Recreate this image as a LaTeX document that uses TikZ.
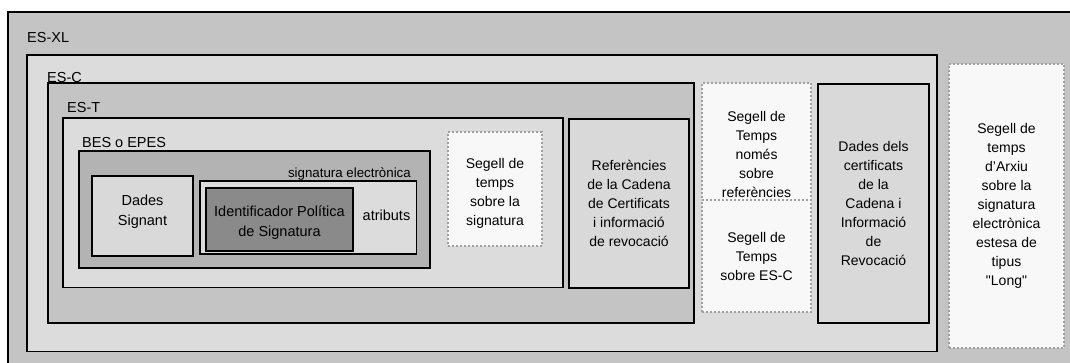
\documentclass[tikz,border=0pt]{standalone}
\usepackage{fontspec}
\setmainfont{Liberation Sans}[Ligatures=TeXOff]
\definecolor{gA}{HTML}{C4C4C4}
\definecolor{gB}{HTML}{DCDCDC}
\definecolor{gBes}{HTML}{B3B3B3}
\definecolor{gBox}{HTML}{D9D9D9}
\definecolor{gId}{HTML}{8A8A8A}
\definecolor{gDash}{HTML}{F8F8F8}
\definecolor{gDashLine}{HTML}{A0A0A0}
\tikzset{
  frame/.style={draw=black, line width=1.6pt, inner sep=0pt, outer sep=0pt, align=center,
    font=\fontsize{14}{19}\selectfont},
  dashbox/.style={draw=gDashLine, line width=1.2pt, dash pattern=on 2pt off 2pt, fill=gDash,
    inner sep=0pt, outer sep=0pt, align=center, font=\fontsize{14}{19}\selectfont},
  lbl/.style={inner sep=0pt, font=\fontsize{14.5}{17}\selectfont},
  txt/.style={inner sep=0pt, align=center, font=\fontsize{14}{19}\selectfont},
}
\begin{document}
\begin{tikzpicture}[x=1pt,y=-1pt]
\useasboundingbox (0,0) rectangle (1070,363);
\clip (0,0) rectangle (1070,363);
\fill[white] (0,0) rectangle (1070,363);
% outer
\node[frame, fill=gA, minimum width=1072, minimum height=363] (outer) at (544,193.5) {};
% ES-XL
\node[frame, fill=gB, minimum width=910, minimum height=296.5] (esxl) at (482,203.25) {};
\node[lbl, anchor=base west] (lesxl) at (27,42.7) {ES-XL};
% ES-C
\node[frame, fill=gA, minimum width=646, minimum height=240] (esc) at (371,203) {};
\node[lbl, anchor=base west] (lesc) at (47,82.5) {ES-C};
% ES-T
\node[frame, fill=gB, minimum width=500, minimum height=169.5] (est) at (313,202.75) {};
\node[lbl, anchor=base west] (lest) at (67,113) {ES-T};
% BES o EPES
\node[frame, fill=gBes, minimum width=351, minimum height=117] (bes) at (254.5,209.5) {};
\node[lbl, anchor=base west] (lbes) at (82,148) {BES o EPES};
% Dades Signant
\node[frame, fill=gBox, minimum width=101, minimum height=80] (dsig) at (142.5,216) {};
\node[txt, font=\fontsize{14.5}{20}\selectfont] (tdsig) at (142.5,212) {Dades\\Signant};
% signatura electronica
\node[frame, fill=gB, minimum width=216.5, minimum height=73] (sig) at (308.25,217.5) {};
\node[inner sep=0pt, anchor=base east, font=\fontsize{13.3}{15}\selectfont] (lsig) at (411,178) {signatura electrònica};
\node[frame, fill=gId, minimum width=147, minimum height=63] (ident) at (279.5,219.5) {};
\node[txt, font=\fontsize{14.5}{20}\selectfont] (tident) at (279.5,223) {Identificador Política\\de Signatura};
\node[txt, font=\fontsize{14.5}{17}\selectfont] (atr) at (386.5,215) {atributs};
% Segell sobre la signatura
\node[dashbox, minimum width=94, minimum height=114] (segsig) at (495,189) {};
\node[txt] (tsegsig) at (495,193.5) {Segell de\\temps\\sobre la\\signatura};
% Referencies
\node[frame, fill=gBox, minimum width=120, minimum height=169] (ref) at (629,203.5)
  {Referències\\de la Cadena\\de Certificats\\i informació\\de revocació};
% Segell refs
\node[dashbox, minimum width=109, minimum height=117] (segref) at (756.5,141.5) {};
\node[txt] (tsegref) at (756.5,154) {Segell de\\Temps\\només\\sobre\\referències};
\node[dashbox, minimum width=109, minimum height=112] (segesc) at (756.5,256)
  {Segell de\\Temps\\sobre ES-C};
% Dades dels certificats
\node[frame, fill=gBox, minimum width=111, minimum height=239] (dcert) at (873.5,203.5)
  {Dades dels\\certificats\\de la\\Cadena i\\Informació\\de\\Revocació};
% Arxiu
\node[dashbox, minimum width=115, minimum height=284] (arxiu) at (1006.5,206)
  {Segell de\\temps\\d’Arxiu\\sobre la\\signatura\\electrònica\\estesa de\\tipus\\"Long"};
\end{tikzpicture}
\end{document}
